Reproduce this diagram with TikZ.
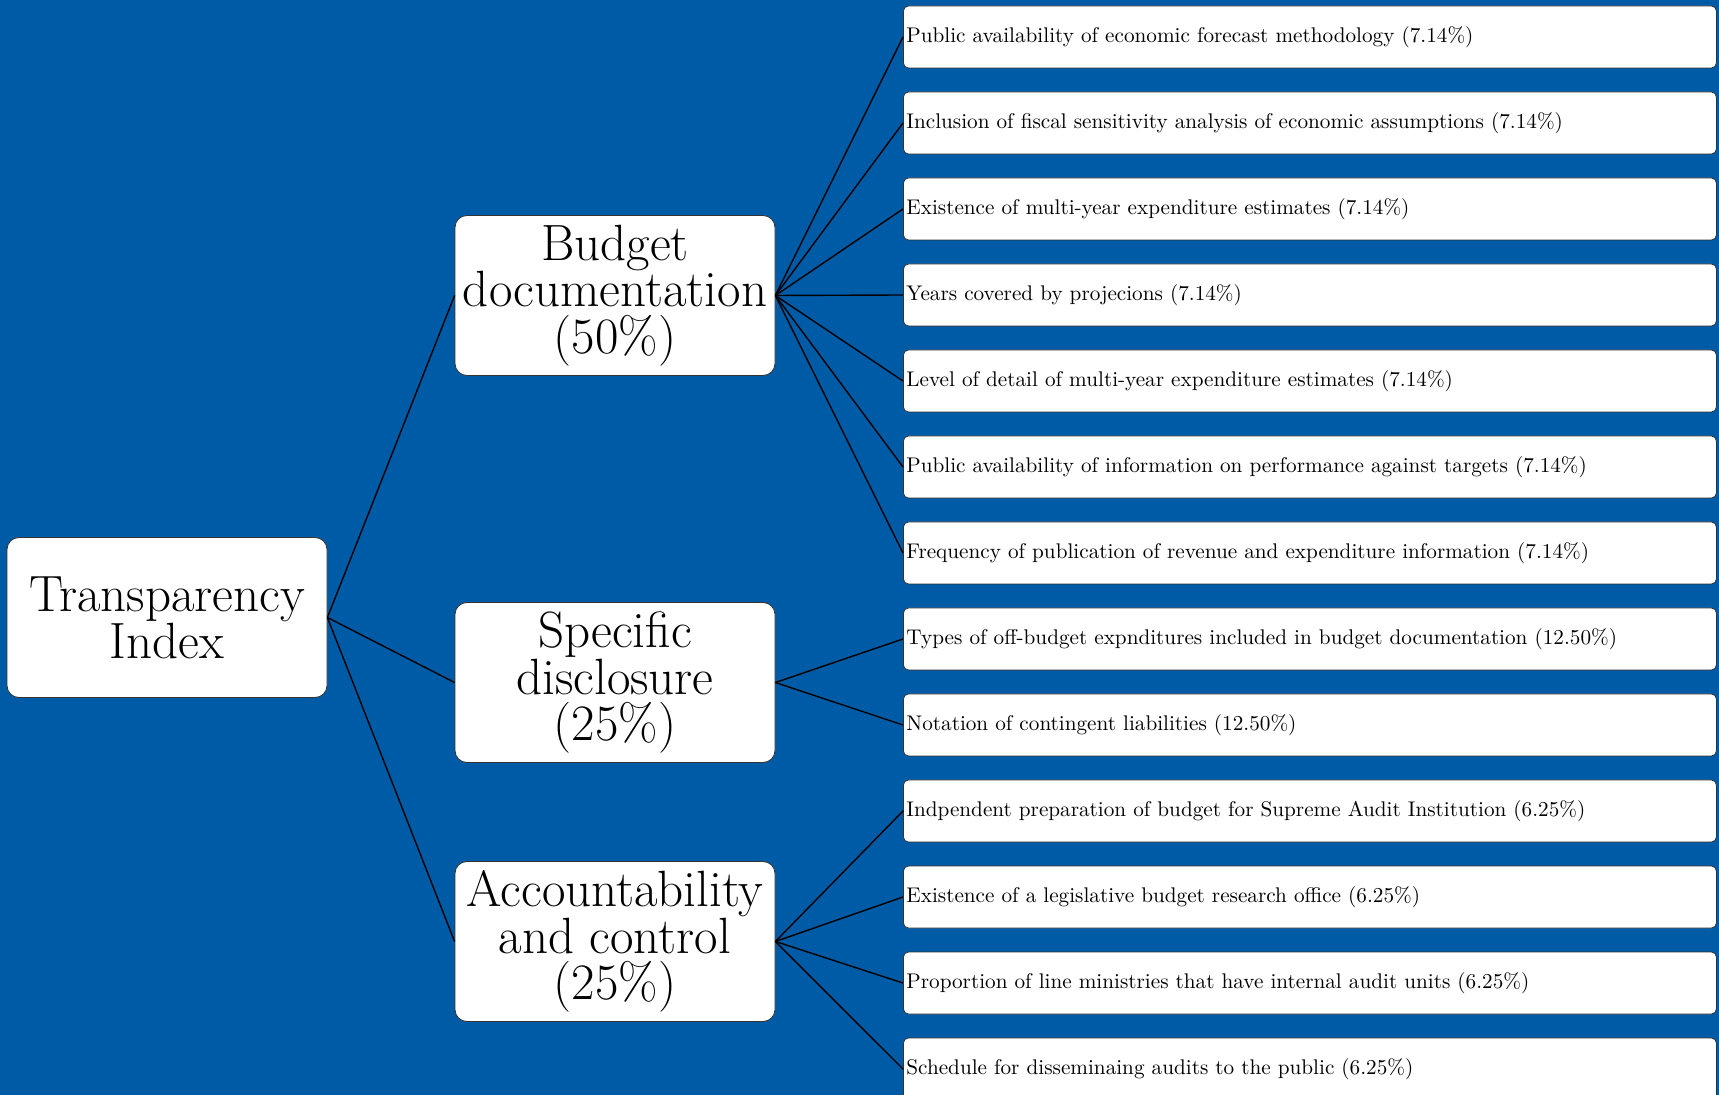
\documentclass[tikz,border=0pt]{standalone}
\usepackage{tikz}
\definecolor{bgblue}{RGB}{0,91,166}
\tikzset{
  topbox/.style={draw=black!80, line width=0.4pt, fill=white, rounded corners=6pt,
    minimum width=160pt, minimum height=80pt, inner sep=0pt, align=center,
    font=\fontsize{25.5}{23.4}\selectfont},
  leafbox/.style={draw=black!80, line width=0.4pt, fill=white, rounded corners=2.5pt,
    anchor=west, minimum height=31pt, inner xsep=1.5pt, inner ysep=0pt,
    text width=403.5pt, align=left, font=\fontsize{10.6}{12}\selectfont},
  link/.style={black, line width=0.7pt}
}
\begin{document}
\begin{tikzpicture}[x=0.5pt, y=-0.5pt]
				\fill[bgblue] (0,0) rectangle (1719,1095);
				\useasboundingbox (0,0) rectangle (1719,1095);

				\node[topbox] (root) at (167,617.5) {Transparency\\Index};
				\node[topbox] (bud) at (615,295.5) {Budget\\documentation\\(50\%)};
				\node[topbox] (spec) at (615,682.5) {Specific\\disclosure\\(25\%)};
				\node[topbox] (acc) at (615,941.5) {Accountability\\and control\\(25\%)};

				\foreach \i/\txt in {
						1/Public availability of economic forecast methodology (7.14\%),
						2/Inclusion of fiscal sensitivity analysis of economic assumptions (7.14\%),
						3/Existence of multi-year expenditure estimates (7.14\%),
						4/Years covered by projecions (7.14\%),
						5/Level of detail of multi-year expenditure estimates (7.14\%),
						6/Public availability of information on performance against targets (7.14\%),
						7/Frequency of publication of revenue and expenditure information (7.14\%),
						8/Types of off-budget expnditures included in budget documentation (12.50\%),
						9/Notation of contingent liabilities (12.50\%),
						10/Indpendent preparation of budget for Supreme Audit Institution (6.25\%),
						11/Existence of a legislative budget research office (6.25\%),
						12/Proportion of line ministries that have internal audit units (6.25\%),
						13/Schedule for disseminaing audits to the public (6.25\%)}{
						\node[leafbox] (l\i) at (903,{37+86*(\i-1)}) {\txt};
					}

				\draw[link] (root.east) -- (bud.west);
				\draw[link] (root.east) -- (spec.west);
				\draw[link] (root.east) -- (acc.west);

				\foreach \i in {1, ..., 7}{
						\draw[link] (bud.east) -- (l\i.west);
					}
				\foreach \i in {8, 9}{
						\draw[link] (spec.east) -- (l\i.west);
					}
				\foreach \i in {10, ..., 13}{
						\draw[link] (acc.east) -- (l\i.west);
					}
			\end{tikzpicture}
\end{document}
